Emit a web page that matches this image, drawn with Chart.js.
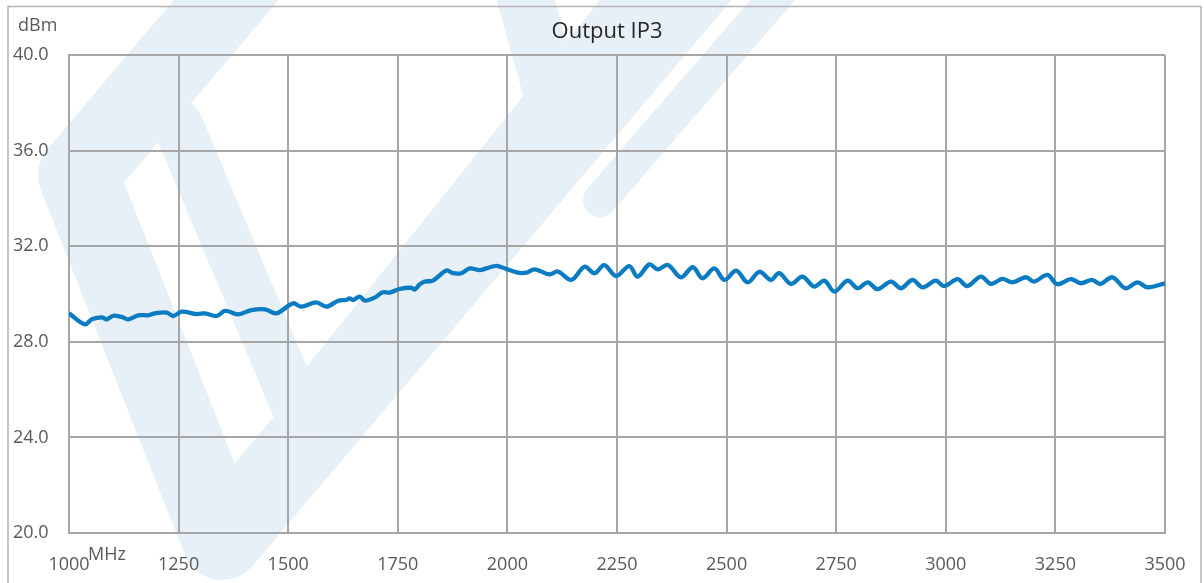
<!DOCTYPE html>
<html>
<head>
<meta charset="utf-8">
<script src="https://cdn.jsdelivr.net/npm/chart.js@4/dist/chart.umd.min.js"></script>
<style>
  html, body { margin: 0; padding: 0; background: #ffffff; }
  #wrap { width: 1204px; height: 583px; position: relative; }
</style>
</head>
<body>
<div id="wrap"><canvas id="c" width="1204" height="583"></canvas></div>
<script>
// ---- data ----
const title = 'Output IP3';
const yUnit = 'dBm';
const xUnit = 'MHz';
const xTicks = [1000, 1250, 1500, 1750, 2000, 2250, 2500, 2750, 3000, 3250, 3500];
const yTicks = [20, 24, 28, 32, 36, 40];

const freqMHz = [
  1000, 1036, 1052, 1075, 1086, 1101, 1120, 1135, 1158, 1181, 1196, 1223, 1238, 1257,
  1291, 1310, 1337, 1356, 1386, 1416, 1447, 1473, 1511, 1530, 1564, 1587, 1614, 1633,
  1640, 1648, 1663, 1675, 1697, 1716, 1732, 1754, 1781, 1789, 1800, 1811, 1830, 1861,
  1876, 1895, 1914, 1937, 1952, 1975, 1997, 2024, 2043, 2062, 2096, 2115, 2146, 2176,
  2199, 2221, 2248, 2278, 2297, 2324, 2343, 2366, 2396, 2423, 2445, 2472, 2495, 2522,
  2548, 2575, 2601, 2620, 2647, 2673, 2700, 2723, 2746, 2776, 2799, 2822, 2844, 2875,
  2898, 2924, 2947, 2977, 2996, 3027, 3049, 3080, 3103, 3129, 3152, 3183, 3201, 3232,
  3254, 3285, 3308, 3334, 3353, 3380, 3410, 3437, 3460, 3500
];
const oip3dBm = [
  29.19, 28.73, 28.94, 29.02, 28.94, 29.09, 29.04, 28.94, 29.11, 29.11, 29.19, 29.22, 29.08, 29.26,
  29.16, 29.19, 29.08, 29.29, 29.15, 29.33, 29.36, 29.19, 29.61, 29.47, 29.65, 29.47, 29.72, 29.75,
  29.82, 29.75, 29.89, 29.72, 29.85, 30.07, 30.06, 30.21, 30.26, 30.19, 30.40, 30.52, 30.56, 30.98,
  30.87, 30.87, 31.07, 31.00, 31.07, 31.18, 31.05, 30.89, 30.89, 31.03, 30.82, 30.94, 30.59, 31.14,
  30.87, 31.21, 30.75, 31.17, 30.73, 31.24, 31.03, 31.21, 30.70, 31.12, 30.66, 31.07, 30.59, 30.98,
  30.49, 30.93, 30.59, 30.87, 30.42, 30.73, 30.31, 30.56, 30.10, 30.56, 30.24, 30.49, 30.20, 30.52,
  30.24, 30.59, 30.28, 30.56, 30.33, 30.62, 30.33, 30.73, 30.42, 30.63, 30.49, 30.70, 30.52, 30.80,
  30.41, 30.62, 30.45, 30.59, 30.42, 30.70, 30.24, 30.49, 30.28, 30.45
];

// ---- styling ----
const FONT = "'Open Sans', 'Noto Sans', sans-serif";
const GRID = '#a6a6a6';
const TEXT = '#595959';

const backgroundPlugin = {
  id: 'bgAndMark',
  beforeDraw(chart) {
    const ctx = chart.ctx;
    ctx.save();
    ctx.fillStyle = '#ffffff';
    ctx.fillRect(0, 0, chart.width, chart.height);
    // faint watermark logo
    ctx.strokeStyle = 'rgb(231,239,247)';
    ctx.lineCap = 'round';
    ctx.lineJoin = 'round';
    ctx.lineWidth = 80;
    ctx.beginPath();
    ctx.moveTo(260, -40);
    ctx.lineTo(78, 175);
    ctx.lineTo(222, 540);
    ctx.lineTo(730, -60);
    ctx.stroke();
    ctx.lineWidth = 50;
    ctx.beginPath();
    ctx.moveTo(178, 125);
    ctx.lineTo(300, 415);
    ctx.lineTo(640, -10);
    ctx.stroke();
    ctx.lineWidth = 34;
    ctx.beginPath();
    ctx.moveTo(790, -20);
    ctx.lineTo(600, 200);
    ctx.stroke();
    ctx.lineWidth = 56;
    ctx.beginPath();
    ctx.moveTo(520, -20);
    ctx.lineTo(555, 105);
    ctx.stroke();
    // outer frame
    ctx.strokeStyle = '#b4b4b4';
    ctx.lineWidth = 1.5;
    ctx.strokeRect(8, 6.5, 1193, 600);
    ctx.restore();
  },
  afterDraw(chart) {
    const ctx = chart.ctx;
    const xs = chart.scales.x;
    ctx.save();
    ctx.textBaseline = 'middle';
    ctx.textAlign = 'center';
    ctx.fillStyle = '#262626';
    ctx.font = "22px " + FONT;
    ctx.fillText(title, 607, 32);
    ctx.fillStyle = TEXT;
    ctx.font = "18px " + FONT;
    ctx.textAlign = 'left';
    ctx.fillText(yUnit, 18, 26);
    ctx.fillText(xUnit, xs.getPixelForValue(xTicks[0]) + 19, 555);
    ctx.restore();
  }
};

new Chart(document.getElementById('c'), {
  type: 'line',
  data: {
    datasets: [{
      data: freqMHz.map((f, i) => ({ x: f, y: oip3dBm[i] })),
      borderColor: '#0b7bc2',
      borderWidth: 4.3,
      pointRadius: 0,
      tension: 0.35,
      fill: false
    }]
  },
  options: {
    responsive: false,
    animation: false,
    layout: { padding: { left: 13, right: 39, top: 55, bottom: 10.2 } },
    plugins: {
      legend: { display: false },
      tooltip: { enabled: false },
      title: { display: false }
    },
    scales: {
      x: {
        type: 'linear',
        min: xTicks[0],
        max: xTicks[xTicks.length - 1],
        afterBuildTicks(s) { s.ticks = xTicks.map(v => ({ value: v })); },
        ticks: {
          color: TEXT,
          font: { family: FONT, size: 18 },
          padding: 21,
          maxRotation: 0,
          autoSkip: false,
          callback: v => String(v)
        },
        grid: { color: GRID, lineWidth: 2, drawTicks: false },
        border: { display: true, color: GRID, width: 2 },
        afterFit(s) { s.height = 39.8; s.paddingLeft = 0; s.paddingRight = 0; }
      },
      y: {
        min: yTicks[0],
        max: yTicks[yTicks.length - 1],
        afterBuildTicks(s) { s.ticks = yTicks.map(v => ({ value: v })); },
        ticks: {
          color: TEXT,
          font: { family: FONT, size: 18 },
          crossAlign: 'far',
          padding: 4,
          callback: v => Number(v).toFixed(1)
        },
        grid: { color: GRID, lineWidth: 2, drawTicks: false },
        border: { display: true, color: GRID, width: 2 },
        afterFit(s) { s.width = 56; s.paddingTop = 0; s.paddingBottom = 0; }
      }
    }
  },
  plugins: [backgroundPlugin]
});
</script>
</body>
</html>
